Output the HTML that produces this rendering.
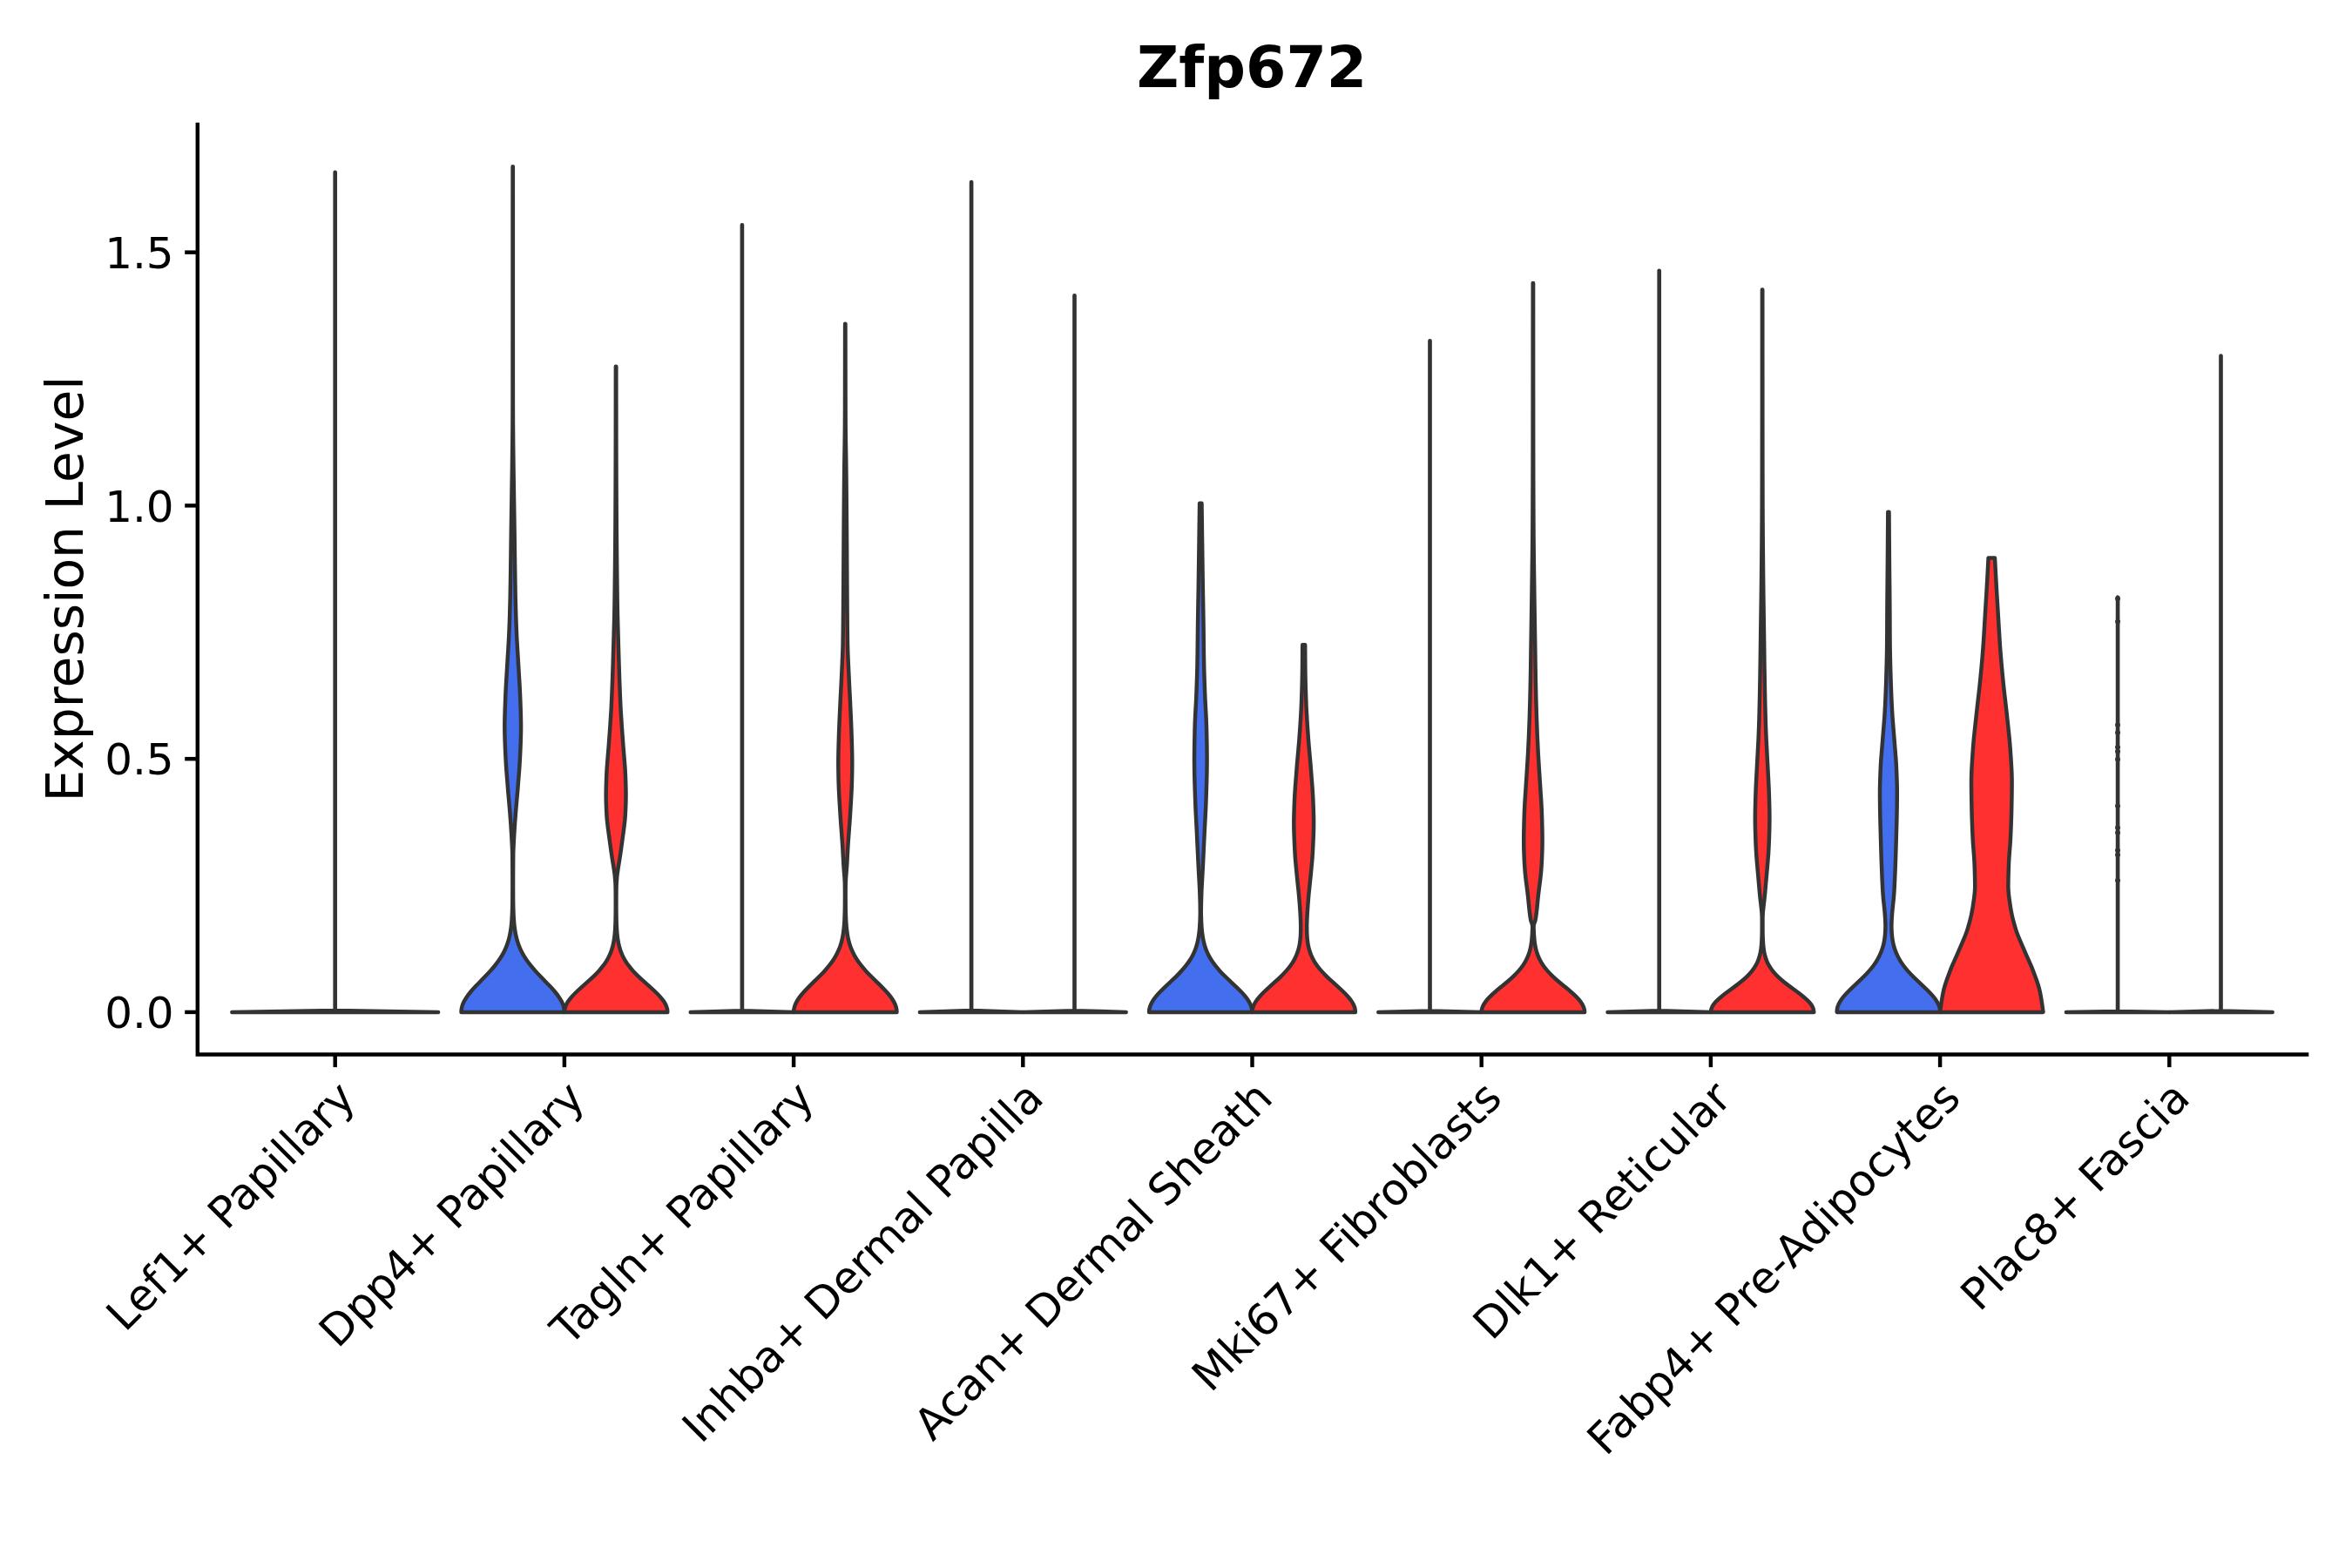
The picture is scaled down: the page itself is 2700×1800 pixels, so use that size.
<!DOCTYPE html>
<html><head><meta charset="utf-8"><title>Zfp672</title>
<style>html,body{margin:0;padding:0;background:#fff}svg{display:block}text{font-family:"DejaVu Sans","Liberation Sans",sans-serif;fill:#000}</style></head>
<body>
<svg width="2700" height="1800" viewBox="0 0 2700 1800">
<rect width="2700" height="1800" fill="#fff"/>
<g stroke="#333333" stroke-width="4.45" stroke-linejoin="round" stroke-linecap="round">
<path fill="#FF3030" d="M266.3,1161.9 L384.6,1160.0 L384.6,197.7 L384.8,197.7 L384.8,1160.0 L503.1,1161.9Z"/>
<path fill="#436EEE" d="M529.50,1161.90 C529.51,1159.93 529.76,1157.96 530.26,1155.99 C530.77,1154.02 531.52,1152.05 532.49,1150.08 C533.46,1148.11 534.65,1146.14 536.02,1144.17 C537.38,1142.20 538.92,1140.23 540.59,1138.26 C542.25,1136.29 544.03,1134.32 545.88,1132.35 C547.73,1130.38 549.64,1128.42 551.56,1126.45 C553.48,1124.48 555.41,1122.51 557.30,1120.54 C559.19,1118.57 561.04,1116.60 562.82,1114.63 C564.60,1112.66 566.30,1110.69 567.91,1108.72 C569.51,1106.75 571.01,1104.78 572.40,1102.81 C573.79,1100.84 575.07,1098.87 576.23,1096.90 C577.39,1094.93 578.44,1092.96 579.38,1090.99 C580.32,1089.02 581.16,1087.05 581.89,1085.08 C582.63,1083.11 583.26,1081.14 583.82,1079.17 C584.38,1077.20 584.85,1075.23 585.26,1073.26 C585.67,1071.29 586.01,1069.32 586.31,1067.35 C586.60,1065.38 586.84,1063.42 587.04,1061.45 C587.24,1059.48 587.40,1057.51 587.54,1055.54 C587.67,1053.57 587.78,1051.60 587.87,1049.63 C587.95,1047.66 588.02,1045.69 588.08,1043.72 C588.14,1041.75 588.18,1039.78 588.21,1037.81 C588.24,1035.84 588.27,1033.87 588.29,1031.90 C588.37,1023.66 588.35,1015.42 588.33,1007.18 C588.31,998.94 588.26,990.69 588.20,982.45 C588.15,974.21 587.58,965.97 587.11,957.73 C586.65,949.49 586.06,941.25 585.40,933.01 C584.74,924.76 583.92,916.52 583.25,908.28 C582.57,900.04 581.91,891.80 581.30,883.56 C580.70,875.32 580.29,867.08 579.94,858.84 C579.60,850.59 579.29,842.35 579.30,834.11 C579.31,825.87 579.59,817.63 579.88,809.39 C580.17,801.15 580.51,792.91 581.00,784.66 C581.49,776.42 581.99,768.18 582.48,759.94 C582.98,751.70 583.53,743.46 583.98,735.22 C584.42,726.98 584.73,718.74 585.02,710.49 C585.31,702.25 585.54,694.01 585.70,685.77 C585.87,677.53 585.98,669.29 586.10,661.05 C586.21,652.81 586.33,644.56 586.44,636.32 C586.55,628.08 586.65,619.84 586.76,611.60 C586.88,603.36 587.00,595.12 587.13,586.88 C587.26,578.64 587.39,570.39 587.51,562.15 C587.63,553.91 587.76,545.67 587.89,537.43 C588.01,529.19 588.12,520.95 588.19,512.71 C588.27,504.46 588.35,496.22 588.41,487.98 C588.47,479.74 588.50,471.50 588.50,463.26 C588.51,455.02 588.51,446.78 588.51,438.54 C588.51,430.29 588.52,422.05 588.52,413.81 C588.52,405.57 588.52,397.33 588.53,389.09 C588.53,380.85 588.53,372.61 588.53,364.36 C588.53,356.12 588.53,347.88 588.53,339.64 C588.53,331.40 588.54,323.16 588.54,314.92 C588.54,306.68 588.54,298.44 588.54,290.19 C588.54,281.95 588.54,273.71 588.54,265.47 C588.54,257.23 588.54,248.99 588.54,240.75 C588.54,232.51 588.54,224.26 588.55,216.02 C588.55,207.78 588.55,199.54 588.55,191.30 L588.85,191.30 C588.85,199.54 588.85,207.78 588.85,216.02 C588.86,224.26 588.86,232.51 588.86,240.75 C588.86,248.99 588.86,257.23 588.86,265.47 C588.86,273.71 588.86,281.95 588.86,290.19 C588.86,298.44 588.86,306.68 588.86,314.92 C588.86,323.16 588.87,331.40 588.87,339.64 C588.87,347.88 588.87,356.12 588.87,364.36 C588.87,372.61 588.87,380.85 588.87,389.09 C588.88,397.33 588.88,405.57 588.88,413.81 C588.88,422.05 588.89,430.29 588.89,438.54 C588.89,446.78 588.89,455.02 588.90,463.26 C588.90,471.50 588.93,479.74 588.99,487.98 C589.05,496.22 589.13,504.46 589.21,512.71 C589.28,520.95 589.39,529.19 589.51,537.43 C589.64,545.67 589.77,553.91 589.89,562.15 C590.01,570.39 590.14,578.64 590.27,586.88 C590.40,595.12 590.52,603.36 590.64,611.60 C590.75,619.84 590.85,628.08 590.96,636.32 C591.07,644.56 591.19,652.81 591.30,661.05 C591.42,669.29 591.53,677.53 591.70,685.77 C591.86,694.01 592.09,702.25 592.38,710.49 C592.67,718.74 592.98,726.98 593.42,735.22 C593.87,743.46 594.42,751.70 594.92,759.94 C595.41,768.18 595.91,776.42 596.40,784.66 C596.89,792.91 597.23,801.15 597.52,809.39 C597.81,817.63 598.09,825.87 598.10,834.11 C598.11,842.35 597.80,850.59 597.46,858.84 C597.11,867.08 596.70,875.32 596.10,883.56 C595.49,891.80 594.83,900.04 594.15,908.28 C593.48,916.52 592.66,924.76 592.00,933.01 C591.34,941.25 590.75,949.49 590.29,957.73 C589.82,965.97 589.25,974.21 589.20,982.45 C589.14,990.69 589.09,998.94 589.07,1007.18 C589.05,1015.42 589.03,1023.66 589.11,1031.90 C589.13,1033.87 589.16,1035.84 589.19,1037.81 C589.22,1039.78 589.26,1041.75 589.32,1043.72 C589.38,1045.69 589.45,1047.66 589.53,1049.63 C589.62,1051.60 589.73,1053.57 589.86,1055.54 C590.00,1057.51 590.16,1059.48 590.36,1061.45 C590.56,1063.42 590.80,1065.38 591.09,1067.35 C591.39,1069.32 591.73,1071.29 592.14,1073.26 C592.55,1075.23 593.02,1077.20 593.58,1079.17 C594.14,1081.14 594.77,1083.11 595.51,1085.08 C596.24,1087.05 597.08,1089.02 598.02,1090.99 C598.96,1092.96 600.01,1094.93 601.17,1096.90 C602.33,1098.87 603.61,1100.84 605.00,1102.81 C606.39,1104.78 607.89,1106.75 609.49,1108.72 C611.10,1110.69 612.80,1112.66 614.58,1114.63 C616.36,1116.60 618.21,1118.57 620.10,1120.54 C621.99,1122.51 623.92,1124.48 625.84,1126.45 C627.76,1128.42 629.67,1130.38 631.52,1132.35 C633.37,1134.32 635.15,1136.29 636.81,1138.26 C638.48,1140.23 640.02,1142.20 641.38,1144.17 C642.75,1146.14 643.94,1148.11 644.91,1150.08 C645.88,1152.05 646.63,1154.02 647.14,1155.99 C647.64,1157.96 647.89,1159.93 647.90,1161.90Z"/>
<path fill="#FF3030" d="M647.90,1161.90 C647.91,1159.93 648.24,1157.96 648.91,1155.99 C649.58,1154.02 650.58,1152.05 651.85,1150.08 C653.13,1148.11 654.68,1146.14 656.43,1144.17 C658.18,1142.20 660.13,1140.23 662.19,1138.26 C664.26,1136.29 666.44,1134.32 668.65,1132.35 C670.86,1130.38 673.10,1128.42 675.29,1126.45 C677.48,1124.48 679.62,1122.51 681.66,1120.54 C683.70,1118.57 685.63,1116.60 687.43,1114.63 C689.22,1112.66 690.88,1110.69 692.38,1108.72 C693.88,1106.75 695.23,1104.78 696.43,1102.81 C697.64,1100.84 698.69,1098.87 699.60,1096.90 C700.52,1094.93 701.30,1092.96 701.97,1090.99 C702.64,1089.02 703.20,1087.05 703.67,1085.08 C704.14,1083.11 704.53,1081.14 704.84,1079.17 C705.16,1077.20 705.41,1075.23 705.62,1073.26 C705.82,1071.29 705.98,1069.32 706.11,1067.35 C706.24,1065.38 706.33,1063.42 706.41,1061.45 C706.49,1059.48 706.54,1057.51 706.59,1055.54 C706.63,1053.57 706.66,1051.60 706.69,1049.63 C706.71,1047.66 706.73,1045.69 706.74,1043.72 C706.75,1041.75 706.75,1039.78 706.75,1037.81 C706.75,1035.84 706.75,1033.87 706.74,1031.90 C706.73,1025.91 706.74,1019.92 706.47,1013.93 C706.20,1007.94 705.53,1001.94 704.49,995.95 C703.44,989.96 702.51,983.97 701.64,977.98 C700.77,971.99 699.99,966.00 699.18,960.01 C698.37,954.01 697.50,948.02 696.91,942.03 C696.31,936.04 696.08,930.05 695.87,924.06 C695.65,918.07 695.61,912.08 695.73,906.09 C695.86,900.09 696.05,894.10 696.33,888.11 C696.62,882.12 697.09,876.13 697.60,870.14 C698.11,864.15 698.63,858.16 699.06,852.16 C699.48,846.17 699.94,840.18 700.37,834.19 C700.80,828.20 701.20,822.21 701.53,816.22 C701.85,810.23 702.12,804.24 702.37,798.24 C702.63,792.25 702.85,786.26 703.07,780.27 C703.28,774.28 703.48,768.29 703.66,762.30 C703.84,756.31 704.01,750.31 704.18,744.32 C704.35,738.33 704.52,732.34 704.69,726.35 C704.86,720.36 705.03,714.37 705.17,708.38 C705.31,702.39 705.42,696.39 705.51,690.40 C705.60,684.41 705.67,678.42 705.74,672.43 C705.81,666.44 705.88,660.45 705.95,654.46 C706.01,648.46 706.08,642.47 706.13,636.48 C706.19,630.49 706.24,624.50 706.29,618.51 C706.34,612.52 706.37,606.53 706.41,600.54 C706.44,594.54 706.47,588.55 706.50,582.56 C706.53,576.57 706.56,570.58 706.59,564.59 C706.61,558.60 706.64,552.61 706.66,546.61 C706.68,540.62 706.70,534.63 706.71,528.64 C706.73,522.65 706.74,516.66 706.75,510.67 C706.76,504.68 706.77,498.69 706.78,492.69 C706.79,486.70 706.79,480.71 706.80,474.72 C706.80,468.73 706.81,462.74 706.82,456.75 C706.82,450.76 706.83,444.76 706.83,438.77 C706.84,432.78 706.84,426.79 706.85,420.80 L707.35,420.80 C707.36,426.79 707.36,432.78 707.37,438.77 C707.37,444.76 707.38,450.76 707.38,456.75 C707.39,462.74 707.40,468.73 707.40,474.72 C707.41,480.71 707.41,486.70 707.42,492.69 C707.43,498.69 707.44,504.68 707.45,510.67 C707.46,516.66 707.47,522.65 707.49,528.64 C707.50,534.63 707.52,540.62 707.54,546.61 C707.56,552.61 707.59,558.60 707.61,564.59 C707.64,570.58 707.67,576.57 707.70,582.56 C707.73,588.55 707.76,594.54 707.79,600.54 C707.83,606.53 707.86,612.52 707.91,618.51 C707.96,624.50 708.01,630.49 708.07,636.48 C708.12,642.47 708.19,648.46 708.25,654.46 C708.32,660.45 708.39,666.44 708.46,672.43 C708.53,678.42 708.60,684.41 708.69,690.40 C708.78,696.39 708.89,702.39 709.03,708.38 C709.17,714.37 709.34,720.36 709.51,726.35 C709.68,732.34 709.85,738.33 710.02,744.32 C710.19,750.31 710.36,756.31 710.54,762.30 C710.72,768.29 710.92,774.28 711.13,780.27 C711.35,786.26 711.57,792.25 711.83,798.24 C712.08,804.24 712.35,810.23 712.67,816.22 C713.00,822.21 713.40,828.20 713.83,834.19 C714.26,840.18 714.72,846.17 715.14,852.16 C715.57,858.16 716.09,864.15 716.60,870.14 C717.11,876.13 717.58,882.12 717.87,888.11 C718.15,894.10 718.34,900.09 718.47,906.09 C718.59,912.08 718.55,918.07 718.33,924.06 C718.12,930.05 717.89,936.04 717.29,942.03 C716.70,948.02 715.83,954.01 715.02,960.01 C714.21,966.00 713.43,971.99 712.56,977.98 C711.69,983.97 710.76,989.96 709.71,995.95 C708.67,1001.94 708.00,1007.94 707.73,1013.93 C707.46,1019.92 707.47,1025.91 707.46,1031.90 C707.45,1033.87 707.45,1035.84 707.45,1037.81 C707.45,1039.78 707.45,1041.75 707.46,1043.72 C707.47,1045.69 707.49,1047.66 707.51,1049.63 C707.54,1051.60 707.57,1053.57 707.61,1055.54 C707.66,1057.51 707.71,1059.48 707.79,1061.45 C707.87,1063.42 707.96,1065.38 708.09,1067.35 C708.22,1069.32 708.38,1071.29 708.58,1073.26 C708.79,1075.23 709.04,1077.20 709.36,1079.17 C709.67,1081.14 710.06,1083.11 710.53,1085.08 C711.00,1087.05 711.56,1089.02 712.23,1090.99 C712.90,1092.96 713.68,1094.93 714.60,1096.90 C715.51,1098.87 716.56,1100.84 717.77,1102.81 C718.97,1104.78 720.32,1106.75 721.82,1108.72 C723.32,1110.69 724.98,1112.66 726.77,1114.63 C728.57,1116.60 730.50,1118.57 732.54,1120.54 C734.58,1122.51 736.72,1124.48 738.91,1126.45 C741.10,1128.42 743.34,1130.38 745.55,1132.35 C747.76,1134.32 749.94,1136.29 752.01,1138.26 C754.07,1140.23 756.02,1142.20 757.77,1144.17 C759.52,1146.14 761.07,1148.11 762.35,1150.08 C763.62,1152.05 764.62,1154.02 765.29,1155.99 C765.96,1157.96 766.29,1159.93 766.30,1161.90Z"/>
<path fill="#436EEE" d="M792.7,1161.9 L851.8,1160.1 L851.8,258.2 L852.0,258.2 L852.0,1160.1 L911.1,1161.9Z"/>
<path fill="#FF3030" d="M911.10,1161.90 C911.11,1159.93 911.39,1157.96 911.94,1155.99 C912.50,1154.02 913.33,1152.05 914.40,1150.08 C915.47,1148.11 916.78,1146.14 918.27,1144.17 C919.76,1142.20 921.44,1140.23 923.23,1138.26 C925.03,1136.29 926.95,1134.32 928.92,1132.35 C930.90,1130.38 932.93,1128.42 934.95,1126.45 C936.97,1124.48 938.98,1122.51 940.94,1120.54 C942.89,1118.57 944.79,1116.60 946.59,1114.63 C948.39,1112.66 950.09,1110.69 951.68,1108.72 C953.26,1106.75 954.73,1104.78 956.07,1102.81 C957.41,1100.84 958.62,1098.87 959.71,1096.90 C960.80,1094.93 961.76,1092.96 962.61,1090.99 C963.46,1089.02 964.20,1087.05 964.85,1085.08 C965.49,1083.11 966.04,1081.14 966.51,1079.17 C966.98,1077.20 967.37,1075.23 967.70,1073.26 C968.03,1071.29 968.30,1069.32 968.53,1067.35 C968.76,1065.38 968.94,1063.42 969.09,1061.45 C969.24,1059.48 969.35,1057.51 969.45,1055.54 C969.54,1053.57 969.62,1051.60 969.68,1049.63 C969.74,1047.66 969.78,1045.69 969.82,1043.72 C969.85,1041.75 969.88,1039.78 969.89,1037.81 C969.91,1035.84 969.92,1033.87 969.92,1031.90 C969.92,1025.43 969.99,1018.95 969.76,1012.48 C969.52,1006.01 968.76,999.54 968.39,993.06 C968.02,986.59 967.71,980.12 967.33,973.65 C966.95,967.17 966.47,960.70 965.98,954.23 C965.49,947.76 964.99,941.28 964.59,934.81 C964.19,928.34 963.79,921.87 963.43,915.39 C963.07,908.92 962.76,902.45 962.61,895.98 C962.46,889.50 962.32,883.03 962.30,876.56 C962.28,870.09 962.44,863.61 962.60,857.14 C962.76,850.67 962.94,844.20 963.20,837.72 C963.46,831.25 963.76,824.78 964.04,818.31 C964.33,811.83 964.64,805.36 964.98,798.89 C965.32,792.42 965.67,785.94 965.97,779.47 C966.27,773.00 966.57,766.53 966.86,760.05 C967.16,753.58 967.42,747.11 967.56,740.64 C967.69,734.16 967.76,727.69 967.82,721.22 C967.88,714.75 967.93,708.27 967.99,701.80 C968.04,695.33 968.09,688.85 968.13,682.38 C968.17,675.91 968.21,669.44 968.25,662.96 C968.28,656.49 968.32,650.02 968.36,643.55 C968.39,637.07 968.43,630.60 968.47,624.13 C968.52,617.66 968.56,611.18 968.61,604.71 C968.66,598.24 968.71,591.77 968.76,585.29 C968.81,578.82 968.86,572.35 968.92,565.88 C968.98,559.40 969.04,552.93 969.10,546.46 C969.17,539.99 969.25,533.51 969.35,527.04 C969.45,520.57 969.57,514.10 969.67,507.62 C969.76,501.15 969.85,494.68 969.88,488.21 C969.92,481.73 969.93,475.26 969.95,468.79 C969.96,462.32 969.98,455.84 969.99,449.37 C970.00,442.90 970.01,436.43 970.02,429.95 C970.03,423.48 970.04,417.01 970.05,410.54 C970.05,404.06 970.06,397.59 970.07,391.12 C970.08,384.65 970.09,378.17 970.10,371.70 L970.50,371.70 C970.51,378.17 970.52,384.65 970.53,391.12 C970.54,397.59 970.55,404.06 970.55,410.54 C970.56,417.01 970.57,423.48 970.58,429.95 C970.59,436.43 970.60,442.90 970.61,449.37 C970.62,455.84 970.64,462.32 970.65,468.79 C970.67,475.26 970.68,481.73 970.72,488.21 C970.75,494.68 970.84,501.15 970.93,507.62 C971.03,514.10 971.15,520.57 971.25,527.04 C971.35,533.51 971.43,539.99 971.50,546.46 C971.56,552.93 971.62,559.40 971.68,565.88 C971.74,572.35 971.79,578.82 971.84,585.29 C971.89,591.77 971.94,598.24 971.99,604.71 C972.04,611.18 972.08,617.66 972.13,624.13 C972.17,630.60 972.21,637.07 972.24,643.55 C972.28,650.02 972.32,656.49 972.35,662.96 C972.39,669.44 972.43,675.91 972.47,682.38 C972.51,688.85 972.56,695.33 972.61,701.80 C972.67,708.27 972.72,714.75 972.78,721.22 C972.84,727.69 972.91,734.16 973.04,740.64 C973.18,747.11 973.44,753.58 973.74,760.05 C974.03,766.53 974.33,773.00 974.63,779.47 C974.93,785.94 975.28,792.42 975.62,798.89 C975.96,805.36 976.27,811.83 976.56,818.31 C976.84,824.78 977.14,831.25 977.40,837.72 C977.66,844.20 977.84,850.67 978.00,857.14 C978.16,863.61 978.32,870.09 978.30,876.56 C978.28,883.03 978.14,889.50 977.99,895.98 C977.84,902.45 977.53,908.92 977.17,915.39 C976.81,921.87 976.41,928.34 976.01,934.81 C975.61,941.28 975.11,947.76 974.62,954.23 C974.13,960.70 973.65,967.17 973.27,973.65 C972.89,980.12 972.58,986.59 972.21,993.06 C971.84,999.54 971.08,1006.01 970.84,1012.48 C970.61,1018.95 970.68,1025.43 970.68,1031.90 C970.68,1033.87 970.69,1035.84 970.71,1037.81 C970.72,1039.78 970.75,1041.75 970.78,1043.72 C970.82,1045.69 970.86,1047.66 970.92,1049.63 C970.98,1051.60 971.06,1053.57 971.15,1055.54 C971.25,1057.51 971.36,1059.48 971.51,1061.45 C971.66,1063.42 971.84,1065.38 972.07,1067.35 C972.30,1069.32 972.57,1071.29 972.90,1073.26 C973.23,1075.23 973.62,1077.20 974.09,1079.17 C974.56,1081.14 975.11,1083.11 975.75,1085.08 C976.40,1087.05 977.14,1089.02 977.99,1090.99 C978.84,1092.96 979.80,1094.93 980.89,1096.90 C981.98,1098.87 983.19,1100.84 984.53,1102.81 C985.87,1104.78 987.34,1106.75 988.92,1108.72 C990.51,1110.69 992.21,1112.66 994.01,1114.63 C995.81,1116.60 997.71,1118.57 999.66,1120.54 C1001.62,1122.51 1003.63,1124.48 1005.65,1126.45 C1007.67,1128.42 1009.70,1130.38 1011.68,1132.35 C1013.65,1134.32 1015.57,1136.29 1017.37,1138.26 C1019.16,1140.23 1020.84,1142.20 1022.33,1144.17 C1023.82,1146.14 1025.13,1148.11 1026.20,1150.08 C1027.27,1152.05 1028.10,1154.02 1028.66,1155.99 C1029.21,1157.96 1029.49,1159.93 1029.50,1161.90Z"/>
<path fill="#436EEE" d="M1055.9,1161.9 L1115.0,1160.0 L1115.0,209.0 L1115.2,209.0 L1115.2,1160.0 L1174.3,1161.9Z"/>
<path fill="#FF3030" d="M1174.3,1161.9 L1233.4,1160.3 L1233.4,339.2 L1233.6,339.2 L1233.6,1160.3 L1292.7,1161.9Z"/>
<path fill="#436EEE" d="M1319.10,1161.90 C1319.11,1159.93 1319.41,1157.96 1320.01,1155.99 C1320.61,1154.02 1321.51,1152.05 1322.65,1150.08 C1323.80,1148.11 1325.20,1146.14 1326.80,1144.17 C1328.39,1142.20 1330.17,1140.23 1332.08,1138.26 C1333.98,1136.29 1336.01,1134.32 1338.08,1132.35 C1340.15,1130.38 1342.26,1128.42 1344.36,1126.45 C1346.45,1124.48 1348.52,1122.51 1350.52,1120.54 C1352.51,1118.57 1354.43,1116.60 1356.24,1114.63 C1358.04,1112.66 1359.74,1110.69 1361.29,1108.72 C1362.85,1106.75 1364.28,1104.78 1365.57,1102.81 C1366.86,1100.84 1368.01,1098.87 1369.03,1096.90 C1370.06,1094.93 1370.95,1092.96 1371.73,1090.99 C1372.51,1089.02 1373.18,1087.05 1373.75,1085.08 C1374.32,1083.11 1374.80,1081.14 1375.21,1079.17 C1375.61,1077.20 1375.95,1075.23 1376.22,1073.26 C1376.50,1071.29 1376.72,1069.32 1376.90,1067.35 C1377.08,1065.38 1377.23,1063.42 1377.34,1061.45 C1377.46,1059.48 1377.55,1057.51 1377.62,1055.54 C1377.69,1053.57 1377.75,1051.60 1377.78,1049.63 C1377.81,1047.66 1377.81,1045.69 1377.79,1043.72 C1377.77,1041.75 1377.74,1039.78 1377.70,1037.81 C1377.65,1035.84 1377.60,1033.87 1377.55,1031.90 C1377.43,1027.45 1377.27,1023.00 1377.04,1018.54 C1376.82,1014.09 1376.55,1009.64 1376.30,1005.19 C1376.04,1000.74 1375.81,996.28 1375.60,991.83 C1375.38,987.38 1375.17,982.93 1374.96,978.48 C1374.75,974.02 1374.54,969.57 1374.33,965.12 C1374.12,960.67 1373.91,956.22 1373.69,951.76 C1373.46,947.31 1373.22,942.86 1372.98,938.41 C1372.75,933.96 1372.52,929.50 1372.33,925.05 C1372.14,920.60 1372.00,916.15 1371.86,911.70 C1371.72,907.25 1371.57,902.79 1371.44,898.34 C1371.32,893.89 1371.20,889.44 1371.12,884.99 C1371.04,880.53 1371.00,876.08 1371.00,871.63 C1371.00,867.18 1371.04,862.73 1371.11,858.27 C1371.18,853.82 1371.26,849.37 1371.36,844.92 C1371.46,840.47 1371.55,836.01 1371.69,831.56 C1371.84,827.11 1372.06,822.66 1372.30,818.21 C1372.54,813.75 1372.80,809.30 1373.03,804.85 C1373.25,800.40 1373.42,795.95 1373.58,791.49 C1373.75,787.04 1373.90,782.59 1374.05,778.14 C1374.19,773.69 1374.32,769.23 1374.42,764.78 C1374.52,760.33 1374.59,755.88 1374.65,751.43 C1374.71,746.97 1374.76,742.52 1374.80,738.07 C1374.85,733.62 1374.89,729.17 1374.94,724.71 C1374.99,720.26 1375.06,715.81 1375.13,711.36 C1375.20,706.91 1375.28,702.45 1375.35,698.00 C1375.43,693.55 1375.51,689.10 1375.59,684.65 C1375.67,680.20 1375.74,675.74 1375.81,671.29 C1375.88,666.84 1375.94,662.39 1376.00,657.94 C1376.07,653.48 1376.13,649.03 1376.19,644.58 C1376.25,640.13 1376.31,635.68 1376.37,631.22 C1376.43,626.77 1376.49,622.32 1376.56,617.87 C1376.62,613.42 1376.68,608.96 1376.74,604.51 C1376.80,600.06 1376.86,595.61 1376.92,591.16 C1376.98,586.70 1377.04,582.25 1377.10,577.80 L1379.50,577.80 C1379.56,582.25 1379.62,586.70 1379.68,591.16 C1379.74,595.61 1379.80,600.06 1379.86,604.51 C1379.92,608.96 1379.98,613.42 1380.04,617.87 C1380.11,622.32 1380.17,626.77 1380.23,631.22 C1380.29,635.68 1380.35,640.13 1380.41,644.58 C1380.47,649.03 1380.53,653.48 1380.60,657.94 C1380.66,662.39 1380.72,666.84 1380.79,671.29 C1380.86,675.74 1380.93,680.20 1381.01,684.65 C1381.09,689.10 1381.17,693.55 1381.25,698.00 C1381.32,702.45 1381.40,706.91 1381.47,711.36 C1381.54,715.81 1381.61,720.26 1381.66,724.71 C1381.71,729.17 1381.75,733.62 1381.80,738.07 C1381.84,742.52 1381.89,746.97 1381.95,751.43 C1382.01,755.88 1382.08,760.33 1382.18,764.78 C1382.28,769.23 1382.41,773.69 1382.55,778.14 C1382.70,782.59 1382.85,787.04 1383.02,791.49 C1383.18,795.95 1383.35,800.40 1383.57,804.85 C1383.80,809.30 1384.06,813.75 1384.30,818.21 C1384.54,822.66 1384.76,827.11 1384.91,831.56 C1385.05,836.01 1385.14,840.47 1385.24,844.92 C1385.34,849.37 1385.42,853.82 1385.49,858.27 C1385.56,862.73 1385.60,867.18 1385.60,871.63 C1385.60,876.08 1385.56,880.53 1385.48,884.99 C1385.40,889.44 1385.28,893.89 1385.16,898.34 C1385.03,902.79 1384.88,907.25 1384.74,911.70 C1384.60,916.15 1384.46,920.60 1384.27,925.05 C1384.08,929.50 1383.85,933.96 1383.62,938.41 C1383.38,942.86 1383.14,947.31 1382.91,951.76 C1382.69,956.22 1382.48,960.67 1382.27,965.12 C1382.06,969.57 1381.85,974.02 1381.64,978.48 C1381.43,982.93 1381.22,987.38 1381.00,991.83 C1380.79,996.28 1380.56,1000.74 1380.30,1005.19 C1380.05,1009.64 1379.78,1014.09 1379.56,1018.54 C1379.33,1023.00 1379.17,1027.45 1379.05,1031.90 C1379.00,1033.87 1378.95,1035.84 1378.90,1037.81 C1378.86,1039.78 1378.83,1041.75 1378.81,1043.72 C1378.79,1045.69 1378.79,1047.66 1378.82,1049.63 C1378.85,1051.60 1378.91,1053.57 1378.98,1055.54 C1379.05,1057.51 1379.14,1059.48 1379.26,1061.45 C1379.37,1063.42 1379.52,1065.38 1379.70,1067.35 C1379.88,1069.32 1380.10,1071.29 1380.38,1073.26 C1380.65,1075.23 1380.99,1077.20 1381.39,1079.17 C1381.80,1081.14 1382.28,1083.11 1382.85,1085.08 C1383.42,1087.05 1384.09,1089.02 1384.87,1090.99 C1385.65,1092.96 1386.54,1094.93 1387.57,1096.90 C1388.59,1098.87 1389.74,1100.84 1391.03,1102.81 C1392.32,1104.78 1393.75,1106.75 1395.31,1108.72 C1396.86,1110.69 1398.56,1112.66 1400.36,1114.63 C1402.17,1116.60 1404.09,1118.57 1406.08,1120.54 C1408.08,1122.51 1410.15,1124.48 1412.24,1126.45 C1414.34,1128.42 1416.45,1130.38 1418.52,1132.35 C1420.59,1134.32 1422.62,1136.29 1424.52,1138.26 C1426.43,1140.23 1428.21,1142.20 1429.80,1144.17 C1431.40,1146.14 1432.80,1148.11 1433.95,1150.08 C1435.09,1152.05 1435.99,1154.02 1436.59,1155.99 C1437.19,1157.96 1437.49,1159.93 1437.50,1161.90Z"/>
<path fill="#FF3030" d="M1437.50,1161.90 C1437.48,1159.93 1437.78,1157.96 1438.43,1155.99 C1439.08,1154.02 1440.05,1152.05 1441.31,1150.08 C1442.56,1148.11 1444.09,1146.14 1445.83,1144.17 C1447.56,1142.20 1449.50,1140.23 1451.55,1138.26 C1453.60,1136.29 1455.77,1134.32 1457.95,1132.35 C1460.14,1130.38 1462.36,1128.42 1464.52,1126.45 C1466.68,1124.48 1468.79,1122.51 1470.79,1120.54 C1472.79,1118.57 1474.69,1116.60 1476.44,1114.63 C1478.19,1112.66 1479.79,1110.69 1481.24,1108.72 C1482.69,1106.75 1483.98,1104.78 1485.12,1102.81 C1486.26,1100.84 1487.24,1098.87 1488.08,1096.90 C1488.93,1094.93 1489.63,1092.96 1490.22,1090.99 C1490.80,1089.02 1491.27,1087.05 1491.65,1085.08 C1492.03,1083.11 1492.32,1081.14 1492.54,1079.17 C1492.76,1077.20 1492.91,1075.23 1493.02,1073.26 C1493.12,1071.29 1493.18,1069.32 1493.20,1067.35 C1493.22,1065.38 1493.21,1063.42 1493.18,1061.45 C1493.15,1059.48 1493.09,1057.51 1493.01,1055.54 C1492.93,1053.57 1492.83,1051.60 1492.72,1049.63 C1492.60,1047.66 1492.48,1045.69 1492.34,1043.72 C1492.21,1041.75 1492.07,1039.78 1491.92,1037.81 C1491.77,1035.84 1491.61,1033.87 1491.45,1031.90 C1491.21,1029.04 1490.96,1026.18 1490.66,1023.32 C1490.37,1020.46 1490.06,1017.60 1489.75,1014.74 C1489.44,1011.88 1489.16,1009.02 1488.88,1006.16 C1488.61,1003.30 1488.32,1000.44 1488.03,997.58 C1487.75,994.72 1487.47,991.86 1487.23,989.00 C1486.98,986.14 1486.76,983.28 1486.59,980.42 C1486.43,977.56 1486.30,974.70 1486.15,971.84 C1486.01,968.98 1485.88,966.12 1485.76,963.26 C1485.63,960.40 1485.53,957.55 1485.45,954.69 C1485.37,951.83 1485.32,948.97 1485.31,946.11 C1485.29,943.25 1485.32,940.39 1485.37,937.53 C1485.43,934.67 1485.52,931.81 1485.62,928.95 C1485.72,926.09 1485.82,923.23 1485.94,920.37 C1486.05,917.51 1486.19,914.65 1486.36,911.79 C1486.53,908.93 1486.73,906.07 1486.93,903.21 C1487.14,900.35 1487.36,897.49 1487.59,894.63 C1487.82,891.77 1488.04,888.91 1488.27,886.05 C1488.49,883.19 1488.70,880.33 1488.94,877.47 C1489.18,874.61 1489.44,871.75 1489.70,868.89 C1489.96,866.03 1490.22,863.17 1490.48,860.31 C1490.74,857.45 1490.99,854.59 1491.22,851.73 C1491.46,848.87 1491.67,846.01 1491.86,843.15 C1492.06,840.29 1492.26,837.43 1492.46,834.57 C1492.65,831.71 1492.84,828.85 1493.01,825.99 C1493.19,823.13 1493.36,820.27 1493.51,817.41 C1493.66,814.55 1493.80,811.70 1493.91,808.84 C1494.03,805.98 1494.12,803.12 1494.22,800.26 C1494.32,797.40 1494.41,794.54 1494.50,791.68 C1494.58,788.82 1494.66,785.96 1494.73,783.10 C1494.80,780.24 1494.86,777.38 1494.91,774.52 C1494.96,771.66 1495.00,768.80 1495.02,765.94 C1495.05,763.08 1495.07,760.22 1495.09,757.36 C1495.11,754.50 1495.13,751.64 1495.15,748.78 C1495.16,745.92 1495.18,743.06 1495.20,740.20 L1498.20,740.20 C1498.22,743.06 1498.24,745.92 1498.25,748.78 C1498.27,751.64 1498.29,754.50 1498.31,757.36 C1498.33,760.22 1498.35,763.08 1498.38,765.94 C1498.40,768.80 1498.44,771.66 1498.49,774.52 C1498.54,777.38 1498.60,780.24 1498.67,783.10 C1498.74,785.96 1498.82,788.82 1498.90,791.68 C1498.99,794.54 1499.08,797.40 1499.18,800.26 C1499.28,803.12 1499.37,805.98 1499.49,808.84 C1499.60,811.70 1499.74,814.55 1499.89,817.41 C1500.04,820.27 1500.21,823.13 1500.39,825.99 C1500.56,828.85 1500.75,831.71 1500.94,834.57 C1501.14,837.43 1501.34,840.29 1501.54,843.15 C1501.73,846.01 1501.94,848.87 1502.18,851.73 C1502.41,854.59 1502.66,857.45 1502.92,860.31 C1503.18,863.17 1503.44,866.03 1503.70,868.89 C1503.96,871.75 1504.22,874.61 1504.46,877.47 C1504.70,880.33 1504.91,883.19 1505.13,886.05 C1505.36,888.91 1505.58,891.77 1505.81,894.63 C1506.04,897.49 1506.26,900.35 1506.47,903.21 C1506.67,906.07 1506.87,908.93 1507.04,911.79 C1507.21,914.65 1507.35,917.51 1507.46,920.37 C1507.58,923.23 1507.68,926.09 1507.78,928.95 C1507.88,931.81 1507.97,934.67 1508.03,937.53 C1508.08,940.39 1508.11,943.25 1508.09,946.11 C1508.08,948.97 1508.03,951.83 1507.95,954.69 C1507.87,957.55 1507.77,960.40 1507.64,963.26 C1507.52,966.12 1507.39,968.98 1507.25,971.84 C1507.10,974.70 1506.97,977.56 1506.81,980.42 C1506.64,983.28 1506.42,986.14 1506.17,989.00 C1505.93,991.86 1505.65,994.72 1505.37,997.58 C1505.08,1000.44 1504.79,1003.30 1504.52,1006.16 C1504.24,1009.02 1503.96,1011.88 1503.65,1014.74 C1503.34,1017.60 1503.03,1020.46 1502.74,1023.32 C1502.44,1026.18 1502.19,1029.04 1501.95,1031.90 C1501.79,1033.87 1501.63,1035.84 1501.48,1037.81 C1501.33,1039.78 1501.19,1041.75 1501.06,1043.72 C1500.92,1045.69 1500.80,1047.66 1500.68,1049.63 C1500.57,1051.60 1500.47,1053.57 1500.39,1055.54 C1500.31,1057.51 1500.25,1059.48 1500.22,1061.45 C1500.19,1063.42 1500.18,1065.38 1500.20,1067.35 C1500.22,1069.32 1500.28,1071.29 1500.38,1073.26 C1500.49,1075.23 1500.64,1077.20 1500.86,1079.17 C1501.08,1081.14 1501.37,1083.11 1501.75,1085.08 C1502.13,1087.05 1502.60,1089.02 1503.18,1090.99 C1503.77,1092.96 1504.47,1094.93 1505.32,1096.90 C1506.16,1098.87 1507.14,1100.84 1508.28,1102.81 C1509.42,1104.78 1510.71,1106.75 1512.16,1108.72 C1513.61,1110.69 1515.21,1112.66 1516.96,1114.63 C1518.71,1116.60 1520.61,1118.57 1522.61,1120.54 C1524.61,1122.51 1526.72,1124.48 1528.88,1126.45 C1531.04,1128.42 1533.26,1130.38 1535.45,1132.35 C1537.63,1134.32 1539.80,1136.29 1541.85,1138.26 C1543.90,1140.23 1545.84,1142.20 1547.57,1144.17 C1549.31,1146.14 1550.84,1148.11 1552.09,1150.08 C1553.35,1152.05 1554.32,1154.02 1554.97,1155.99 C1555.62,1157.96 1555.92,1159.93 1555.90,1161.90Z"/>
<path fill="#436EEE" d="M1582.3,1161.9 L1641.4,1160.4 L1641.4,391.1 L1641.6,391.1 L1641.6,1160.4 L1700.7,1161.9Z"/>
<path fill="#FF3030" d="M1700.70,1161.90 C1700.71,1159.93 1701.09,1157.96 1701.86,1155.99 C1702.63,1154.02 1703.78,1152.05 1705.23,1150.08 C1706.68,1148.11 1708.44,1146.14 1710.41,1144.17 C1712.38,1142.20 1714.57,1140.23 1716.85,1138.26 C1719.13,1136.29 1721.52,1134.32 1723.90,1132.35 C1726.29,1130.38 1728.67,1128.42 1730.96,1126.45 C1733.26,1124.48 1735.46,1122.51 1737.53,1120.54 C1739.59,1118.57 1741.50,1116.60 1743.25,1114.63 C1744.99,1112.66 1746.56,1110.69 1747.96,1108.72 C1749.35,1106.75 1750.57,1104.78 1751.62,1102.81 C1752.68,1100.84 1753.58,1098.87 1754.34,1096.90 C1755.10,1094.93 1755.73,1092.96 1756.25,1090.99 C1756.77,1089.02 1757.19,1087.05 1757.53,1085.08 C1757.87,1083.11 1758.14,1081.14 1758.35,1079.17 C1758.56,1077.20 1758.72,1075.23 1758.84,1073.26 C1758.97,1071.29 1759.05,1069.32 1759.11,1067.35 C1759.16,1065.38 1759.48,1063.42 1758.94,1061.45 C1758.41,1059.48 1757.45,1057.51 1757.11,1055.54 C1756.78,1053.57 1756.48,1051.60 1756.22,1049.63 C1755.96,1047.66 1755.73,1045.69 1755.52,1043.72 C1755.31,1041.75 1755.11,1039.78 1754.92,1037.81 C1754.73,1035.84 1754.55,1033.87 1754.36,1031.90 C1753.67,1024.97 1752.70,1018.04 1751.80,1011.11 C1750.89,1004.18 1750.30,997.25 1749.96,990.32 C1749.62,983.39 1749.33,976.46 1749.23,969.53 C1749.14,962.60 1749.25,955.67 1749.43,948.74 C1749.60,941.80 1749.78,934.87 1750.10,927.94 C1750.41,921.01 1750.90,914.08 1751.38,907.15 C1751.86,900.22 1752.28,893.29 1752.73,886.36 C1753.17,879.43 1753.63,872.50 1754.02,865.57 C1754.42,858.64 1754.73,851.71 1755.03,844.78 C1755.32,837.85 1755.59,830.92 1755.82,823.99 C1756.05,817.06 1756.25,810.13 1756.43,803.20 C1756.61,796.27 1756.77,789.34 1756.90,782.41 C1757.04,775.48 1757.15,768.55 1757.25,761.61 C1757.35,754.68 1757.44,747.75 1757.54,740.82 C1757.63,733.89 1757.74,726.96 1757.85,720.03 C1757.96,713.10 1758.07,706.17 1758.17,699.24 C1758.28,692.31 1758.38,685.38 1758.48,678.45 C1758.57,671.52 1758.66,664.59 1758.76,657.66 C1758.86,650.73 1758.95,643.80 1759.04,636.87 C1759.13,629.94 1759.20,623.01 1759.25,616.08 C1759.31,609.15 1759.33,602.22 1759.37,595.29 C1759.40,588.35 1759.43,581.42 1759.45,574.49 C1759.48,567.56 1759.50,560.63 1759.52,553.70 C1759.54,546.77 1759.56,539.84 1759.57,532.91 C1759.58,525.98 1759.59,519.05 1759.60,512.12 C1759.61,505.19 1759.61,498.26 1759.62,491.33 C1759.62,484.40 1759.63,477.47 1759.63,470.54 C1759.64,463.61 1759.64,456.68 1759.65,449.75 C1759.65,442.82 1759.65,435.89 1759.66,428.96 C1759.66,422.03 1759.66,415.10 1759.66,408.16 C1759.67,401.23 1759.67,394.30 1759.67,387.37 C1759.68,380.44 1759.68,373.51 1759.68,366.58 C1759.68,359.65 1759.69,352.72 1759.69,345.79 C1759.69,338.86 1759.70,331.93 1759.70,325.00 L1760.10,325.00 C1760.10,331.93 1760.11,338.86 1760.11,345.79 C1760.11,352.72 1760.12,359.65 1760.12,366.58 C1760.12,373.51 1760.12,380.44 1760.13,387.37 C1760.13,394.30 1760.13,401.23 1760.14,408.16 C1760.14,415.10 1760.14,422.03 1760.14,428.96 C1760.15,435.89 1760.15,442.82 1760.15,449.75 C1760.16,456.68 1760.16,463.61 1760.17,470.54 C1760.17,477.47 1760.18,484.40 1760.18,491.33 C1760.19,498.26 1760.19,505.19 1760.20,512.12 C1760.21,519.05 1760.22,525.98 1760.23,532.91 C1760.24,539.84 1760.26,546.77 1760.28,553.70 C1760.30,560.63 1760.32,567.56 1760.35,574.49 C1760.37,581.42 1760.40,588.35 1760.43,595.29 C1760.47,602.22 1760.49,609.15 1760.55,616.08 C1760.60,623.01 1760.67,629.94 1760.76,636.87 C1760.85,643.80 1760.94,650.73 1761.04,657.66 C1761.14,664.59 1761.23,671.52 1761.32,678.45 C1761.42,685.38 1761.52,692.31 1761.63,699.24 C1761.73,706.17 1761.84,713.10 1761.95,720.03 C1762.06,726.96 1762.17,733.89 1762.26,740.82 C1762.36,747.75 1762.45,754.68 1762.55,761.61 C1762.65,768.55 1762.76,775.48 1762.90,782.41 C1763.03,789.34 1763.19,796.27 1763.37,803.20 C1763.55,810.13 1763.75,817.06 1763.98,823.99 C1764.21,830.92 1764.48,837.85 1764.77,844.78 C1765.07,851.71 1765.38,858.64 1765.78,865.57 C1766.17,872.50 1766.63,879.43 1767.07,886.36 C1767.52,893.29 1767.94,900.22 1768.42,907.15 C1768.90,914.08 1769.39,921.01 1769.70,927.94 C1770.02,934.87 1770.20,941.80 1770.37,948.74 C1770.55,955.67 1770.66,962.60 1770.57,969.53 C1770.47,976.46 1770.18,983.39 1769.84,990.32 C1769.50,997.25 1768.91,1004.18 1768.00,1011.11 C1767.10,1018.04 1766.13,1024.97 1765.44,1031.90 C1765.25,1033.87 1765.07,1035.84 1764.88,1037.81 C1764.69,1039.78 1764.49,1041.75 1764.28,1043.72 C1764.07,1045.69 1763.84,1047.66 1763.58,1049.63 C1763.32,1051.60 1763.02,1053.57 1762.69,1055.54 C1762.35,1057.51 1761.39,1059.48 1760.86,1061.45 C1760.32,1063.42 1760.64,1065.38 1760.69,1067.35 C1760.75,1069.32 1760.83,1071.29 1760.96,1073.26 C1761.08,1075.23 1761.24,1077.20 1761.45,1079.17 C1761.66,1081.14 1761.93,1083.11 1762.27,1085.08 C1762.61,1087.05 1763.03,1089.02 1763.55,1090.99 C1764.07,1092.96 1764.70,1094.93 1765.46,1096.90 C1766.22,1098.87 1767.12,1100.84 1768.18,1102.81 C1769.23,1104.78 1770.45,1106.75 1771.84,1108.72 C1773.24,1110.69 1774.81,1112.66 1776.55,1114.63 C1778.30,1116.60 1780.21,1118.57 1782.27,1120.54 C1784.34,1122.51 1786.54,1124.48 1788.84,1126.45 C1791.13,1128.42 1793.51,1130.38 1795.90,1132.35 C1798.28,1134.32 1800.67,1136.29 1802.95,1138.26 C1805.23,1140.23 1807.42,1142.20 1809.39,1144.17 C1811.36,1146.14 1813.12,1148.11 1814.57,1150.08 C1816.02,1152.05 1817.17,1154.02 1817.94,1155.99 C1818.71,1157.96 1819.09,1159.93 1819.10,1161.90Z"/>
<path fill="#436EEE" d="M1845.5,1161.9 L1904.6,1160.2 L1904.6,310.7 L1904.8,310.7 L1904.8,1160.2 L1963.9,1161.9Z"/>
<path fill="#FF3030" d="M1963.90,1161.90 C1963.92,1159.93 1964.41,1157.96 1965.38,1155.99 C1966.35,1154.02 1967.79,1152.05 1969.60,1150.08 C1971.40,1148.11 1973.57,1146.14 1975.95,1144.17 C1978.33,1142.20 1980.93,1140.23 1983.59,1138.26 C1986.25,1136.29 1988.97,1134.32 1991.61,1132.35 C1994.26,1130.38 1996.83,1128.42 1999.22,1126.45 C2001.62,1124.48 2003.85,1122.51 2005.86,1120.54 C2007.87,1118.57 2009.66,1116.60 2011.23,1114.63 C2012.80,1112.66 2014.15,1110.69 2015.29,1108.72 C2016.44,1106.75 2017.39,1104.78 2018.17,1102.81 C2018.96,1100.84 2019.58,1098.87 2020.09,1096.90 C2020.59,1094.93 2020.98,1092.96 2021.29,1090.99 C2021.60,1089.02 2021.82,1087.05 2022.00,1085.08 C2022.18,1083.11 2022.30,1081.14 2022.40,1079.17 C2022.49,1077.20 2022.56,1075.23 2022.60,1073.26 C2022.65,1071.29 2022.68,1069.32 2022.69,1067.35 C2022.71,1065.38 2022.72,1063.42 2022.72,1061.45 C2022.71,1059.48 2022.71,1057.51 2022.70,1055.54 C2022.69,1053.57 2022.66,1051.60 2022.55,1049.63 C2022.43,1047.66 2022.26,1045.69 2022.06,1043.72 C2021.85,1041.75 2021.62,1039.78 2021.39,1037.81 C2021.15,1035.84 2020.91,1033.87 2020.70,1031.90 C2019.96,1025.04 2019.42,1018.18 2018.80,1011.33 C2018.19,1004.47 2017.62,997.61 2016.99,990.75 C2016.37,983.90 2015.86,977.04 2015.59,970.18 C2015.32,963.32 2015.06,956.46 2014.92,949.61 C2014.77,942.75 2014.77,935.89 2014.91,929.03 C2015.05,922.17 2015.25,915.32 2015.50,908.46 C2015.75,901.60 2016.13,894.74 2016.50,887.89 C2016.88,881.03 2017.22,874.17 2017.59,867.31 C2017.95,860.45 2018.35,853.60 2018.68,846.74 C2019.00,839.88 2019.23,833.02 2019.43,826.16 C2019.63,819.31 2019.79,812.45 2019.94,805.59 C2020.10,798.73 2020.23,791.88 2020.35,785.02 C2020.48,778.16 2020.58,771.30 2020.69,764.44 C2020.79,757.59 2020.87,750.73 2020.96,743.87 C2021.04,737.01 2021.13,730.15 2021.24,723.30 C2021.34,716.44 2021.45,709.58 2021.55,702.72 C2021.66,695.87 2021.76,689.01 2021.84,682.15 C2021.93,675.29 2022.00,668.43 2022.07,661.58 C2022.14,654.72 2022.21,647.86 2022.27,641.00 C2022.34,634.15 2022.40,627.29 2022.46,620.43 C2022.51,613.57 2022.56,606.71 2022.60,599.86 C2022.64,593.00 2022.68,586.14 2022.69,579.28 C2022.71,572.42 2022.72,565.57 2022.74,558.71 C2022.75,551.85 2022.76,544.99 2022.77,538.14 C2022.78,531.28 2022.79,524.42 2022.80,517.56 C2022.81,510.70 2022.82,503.85 2022.82,496.99 C2022.83,490.13 2022.84,483.27 2022.84,476.41 C2022.85,469.56 2022.85,462.70 2022.85,455.84 C2022.86,448.98 2022.86,442.13 2022.86,435.27 C2022.87,428.41 2022.87,421.55 2022.87,414.69 C2022.87,407.84 2022.88,400.98 2022.88,394.12 C2022.88,387.26 2022.88,380.40 2022.89,373.55 C2022.89,366.69 2022.89,359.83 2022.89,352.97 C2022.89,346.12 2022.90,339.26 2022.90,332.40 L2023.30,332.40 C2023.30,339.26 2023.31,346.12 2023.31,352.97 C2023.31,359.83 2023.31,366.69 2023.31,373.55 C2023.32,380.40 2023.32,387.26 2023.32,394.12 C2023.32,400.98 2023.33,407.84 2023.33,414.69 C2023.33,421.55 2023.33,428.41 2023.34,435.27 C2023.34,442.13 2023.34,448.98 2023.35,455.84 C2023.35,462.70 2023.35,469.56 2023.36,476.41 C2023.36,483.27 2023.37,490.13 2023.38,496.99 C2023.38,503.85 2023.39,510.70 2023.40,517.56 C2023.41,524.42 2023.42,531.28 2023.43,538.14 C2023.44,544.99 2023.45,551.85 2023.46,558.71 C2023.48,565.57 2023.49,572.42 2023.51,579.28 C2023.52,586.14 2023.56,593.00 2023.60,599.86 C2023.64,606.71 2023.69,613.57 2023.74,620.43 C2023.80,627.29 2023.86,634.15 2023.93,641.00 C2023.99,647.86 2024.06,654.72 2024.13,661.58 C2024.20,668.43 2024.27,675.29 2024.36,682.15 C2024.44,689.01 2024.54,695.87 2024.65,702.72 C2024.75,709.58 2024.86,716.44 2024.96,723.30 C2025.07,730.15 2025.16,737.01 2025.24,743.87 C2025.33,750.73 2025.41,757.59 2025.51,764.44 C2025.62,771.30 2025.72,778.16 2025.85,785.02 C2025.97,791.88 2026.10,798.73 2026.26,805.59 C2026.41,812.45 2026.57,819.31 2026.77,826.16 C2026.97,833.02 2027.20,839.88 2027.52,846.74 C2027.85,853.60 2028.25,860.45 2028.61,867.31 C2028.98,874.17 2029.32,881.03 2029.70,887.89 C2030.07,894.74 2030.45,901.60 2030.70,908.46 C2030.95,915.32 2031.15,922.17 2031.29,929.03 C2031.43,935.89 2031.43,942.75 2031.28,949.61 C2031.14,956.46 2030.88,963.32 2030.61,970.18 C2030.34,977.04 2029.83,983.90 2029.21,990.75 C2028.58,997.61 2028.01,1004.47 2027.40,1011.33 C2026.78,1018.18 2026.24,1025.04 2025.50,1031.90 C2025.29,1033.87 2025.05,1035.84 2024.81,1037.81 C2024.58,1039.78 2024.35,1041.75 2024.14,1043.72 C2023.94,1045.69 2023.77,1047.66 2023.65,1049.63 C2023.54,1051.60 2023.51,1053.57 2023.50,1055.54 C2023.49,1057.51 2023.49,1059.48 2023.48,1061.45 C2023.48,1063.42 2023.49,1065.38 2023.51,1067.35 C2023.52,1069.32 2023.55,1071.29 2023.60,1073.26 C2023.64,1075.23 2023.71,1077.20 2023.80,1079.17 C2023.90,1081.14 2024.02,1083.11 2024.20,1085.08 C2024.38,1087.05 2024.60,1089.02 2024.91,1090.99 C2025.22,1092.96 2025.61,1094.93 2026.11,1096.90 C2026.62,1098.87 2027.24,1100.84 2028.03,1102.81 C2028.81,1104.78 2029.76,1106.75 2030.91,1108.72 C2032.05,1110.69 2033.40,1112.66 2034.97,1114.63 C2036.54,1116.60 2038.33,1118.57 2040.34,1120.54 C2042.35,1122.51 2044.58,1124.48 2046.98,1126.45 C2049.37,1128.42 2051.94,1130.38 2054.59,1132.35 C2057.23,1134.32 2059.95,1136.29 2062.61,1138.26 C2065.27,1140.23 2067.87,1142.20 2070.25,1144.17 C2072.63,1146.14 2074.80,1148.11 2076.60,1150.08 C2078.41,1152.05 2079.85,1154.02 2080.82,1155.99 C2081.79,1157.96 2082.28,1159.93 2082.30,1161.90Z"/>
<path fill="#436EEE" d="M2108.70,1161.90 C2108.64,1159.93 2108.89,1157.96 2109.46,1155.99 C2110.04,1154.02 2110.93,1152.05 2112.09,1150.08 C2113.24,1148.11 2114.67,1146.14 2116.29,1144.17 C2117.92,1142.20 2119.74,1140.23 2121.68,1138.26 C2123.61,1136.29 2125.67,1134.32 2127.76,1132.35 C2129.84,1130.38 2131.97,1128.42 2134.05,1126.45 C2136.13,1124.48 2138.18,1122.51 2140.13,1120.54 C2142.08,1118.57 2143.94,1116.60 2145.67,1114.63 C2147.40,1112.66 2149.01,1110.69 2150.48,1108.72 C2151.94,1106.75 2153.27,1104.78 2154.46,1102.81 C2155.65,1100.84 2156.70,1098.87 2157.64,1096.90 C2158.58,1094.93 2159.41,1092.96 2160.13,1090.99 C2160.85,1089.02 2161.47,1087.05 2161.98,1085.08 C2162.50,1083.11 2162.90,1081.14 2163.21,1079.17 C2163.53,1077.20 2163.76,1075.23 2163.94,1073.26 C2164.11,1071.29 2164.23,1069.32 2164.31,1067.35 C2164.39,1065.38 2164.43,1063.42 2164.39,1061.45 C2164.36,1059.48 2164.27,1057.51 2164.16,1055.54 C2164.05,1053.57 2163.91,1051.60 2163.78,1049.63 C2163.64,1047.66 2163.47,1045.69 2163.27,1043.72 C2163.07,1041.75 2162.86,1039.78 2162.64,1037.81 C2162.42,1035.84 2162.21,1033.87 2162.01,1031.90 C2161.58,1027.54 2161.32,1023.19 2161.09,1018.83 C2160.85,1014.48 2160.65,1010.12 2160.47,1005.76 C2160.29,1001.41 2160.12,997.05 2159.96,992.70 C2159.80,988.34 2159.65,983.99 2159.52,979.63 C2159.38,975.27 2159.25,970.92 2159.13,966.56 C2159.01,962.21 2158.88,957.85 2158.76,953.49 C2158.63,949.14 2158.51,944.78 2158.40,940.43 C2158.30,936.07 2158.22,931.71 2158.16,927.36 C2158.10,923.00 2158.04,918.65 2158.01,914.29 C2157.99,909.94 2158.01,905.58 2158.11,901.22 C2158.21,896.87 2158.37,892.51 2158.54,888.16 C2158.71,883.80 2158.87,879.44 2159.15,875.09 C2159.44,870.73 2159.80,866.38 2160.17,862.02 C2160.54,857.66 2160.87,853.31 2161.21,848.95 C2161.56,844.60 2161.93,840.24 2162.29,835.89 C2162.65,831.53 2163.00,827.17 2163.31,822.82 C2163.61,818.46 2163.84,814.11 2164.06,809.75 C2164.27,805.39 2164.47,801.04 2164.65,796.68 C2164.83,792.33 2164.99,787.97 2165.13,783.61 C2165.27,779.26 2165.40,774.90 2165.52,770.55 C2165.64,766.19 2165.76,761.84 2165.87,757.48 C2165.97,753.12 2166.06,748.77 2166.13,744.41 C2166.19,740.06 2166.22,735.70 2166.25,731.34 C2166.28,726.99 2166.30,722.63 2166.31,718.28 C2166.33,713.92 2166.35,709.56 2166.37,705.21 C2166.39,700.85 2166.42,696.50 2166.46,692.14 C2166.49,687.79 2166.53,683.43 2166.56,679.07 C2166.60,674.72 2166.64,670.36 2166.69,666.01 C2166.73,661.65 2166.77,657.29 2166.81,652.94 C2166.85,648.58 2166.88,644.23 2166.92,639.87 C2166.95,635.51 2166.98,631.16 2167.02,626.80 C2167.05,622.45 2167.08,618.09 2167.11,613.74 C2167.14,609.38 2167.17,605.02 2167.21,600.67 C2167.24,596.31 2167.27,591.96 2167.30,587.60 L2168.50,587.60 C2168.53,591.96 2168.56,596.31 2168.59,600.67 C2168.63,605.02 2168.66,609.38 2168.69,613.74 C2168.72,618.09 2168.75,622.45 2168.78,626.80 C2168.82,631.16 2168.85,635.51 2168.88,639.87 C2168.92,644.23 2168.95,648.58 2168.99,652.94 C2169.03,657.29 2169.07,661.65 2169.11,666.01 C2169.16,670.36 2169.20,674.72 2169.24,679.07 C2169.27,683.43 2169.31,687.79 2169.34,692.14 C2169.38,696.50 2169.41,700.85 2169.43,705.21 C2169.45,709.56 2169.47,713.92 2169.49,718.28 C2169.50,722.63 2169.52,726.99 2169.55,731.34 C2169.58,735.70 2169.61,740.06 2169.67,744.41 C2169.74,748.77 2169.83,753.12 2169.93,757.48 C2170.04,761.84 2170.16,766.19 2170.28,770.55 C2170.40,774.90 2170.53,779.26 2170.67,783.61 C2170.81,787.97 2170.97,792.33 2171.15,796.68 C2171.33,801.04 2171.53,805.39 2171.74,809.75 C2171.96,814.11 2172.19,818.46 2172.49,822.82 C2172.80,827.17 2173.15,831.53 2173.51,835.89 C2173.87,840.24 2174.24,844.60 2174.59,848.95 C2174.93,853.31 2175.26,857.66 2175.63,862.02 C2176.00,866.38 2176.36,870.73 2176.65,875.09 C2176.93,879.44 2177.09,883.80 2177.26,888.16 C2177.43,892.51 2177.59,896.87 2177.69,901.22 C2177.79,905.58 2177.81,909.94 2177.79,914.29 C2177.76,918.65 2177.70,923.00 2177.64,927.36 C2177.58,931.71 2177.50,936.07 2177.40,940.43 C2177.29,944.78 2177.17,949.14 2177.04,953.49 C2176.92,957.85 2176.79,962.21 2176.67,966.56 C2176.55,970.92 2176.42,975.27 2176.28,979.63 C2176.15,983.99 2176.00,988.34 2175.84,992.70 C2175.68,997.05 2175.51,1001.41 2175.33,1005.76 C2175.15,1010.12 2174.95,1014.48 2174.71,1018.83 C2174.48,1023.19 2174.22,1027.54 2173.79,1031.90 C2173.59,1033.87 2173.38,1035.84 2173.16,1037.81 C2172.94,1039.78 2172.73,1041.75 2172.53,1043.72 C2172.33,1045.69 2172.16,1047.66 2172.02,1049.63 C2171.89,1051.60 2171.75,1053.57 2171.64,1055.54 C2171.53,1057.51 2171.44,1059.48 2171.41,1061.45 C2171.37,1063.42 2171.41,1065.38 2171.49,1067.35 C2171.57,1069.32 2171.69,1071.29 2171.86,1073.26 C2172.04,1075.23 2172.27,1077.20 2172.59,1079.17 C2172.90,1081.14 2173.30,1083.11 2173.82,1085.08 C2174.33,1087.05 2174.95,1089.02 2175.67,1090.99 C2176.39,1092.96 2177.22,1094.93 2178.16,1096.90 C2179.10,1098.87 2180.15,1100.84 2181.34,1102.81 C2182.53,1104.78 2183.86,1106.75 2185.32,1108.72 C2186.79,1110.69 2188.40,1112.66 2190.13,1114.63 C2191.86,1116.60 2193.72,1118.57 2195.67,1120.54 C2197.62,1122.51 2199.67,1124.48 2201.75,1126.45 C2203.83,1128.42 2205.96,1130.38 2208.04,1132.35 C2210.13,1134.32 2212.19,1136.29 2214.12,1138.26 C2216.06,1140.23 2217.88,1142.20 2219.51,1144.17 C2221.13,1146.14 2222.56,1148.11 2223.71,1150.08 C2224.87,1152.05 2225.76,1154.02 2226.34,1155.99 C2226.91,1157.96 2227.16,1159.93 2227.10,1161.90Z"/>
<path fill="#FF3030" d="M2227.10,1161.90 C2227.37,1159.93 2227.62,1157.96 2227.90,1155.99 C2228.17,1154.02 2228.47,1152.05 2228.78,1150.08 C2229.08,1148.11 2229.40,1146.14 2229.74,1144.17 C2230.08,1142.20 2230.46,1140.23 2230.89,1138.26 C2231.31,1136.29 2231.81,1134.32 2232.38,1132.35 C2232.95,1130.38 2233.59,1128.42 2234.27,1126.45 C2234.94,1124.48 2235.66,1122.51 2236.40,1120.54 C2237.13,1118.57 2237.89,1116.60 2238.64,1114.63 C2239.38,1112.66 2240.15,1110.69 2240.97,1108.72 C2241.80,1106.75 2242.67,1104.78 2243.55,1102.81 C2244.44,1100.84 2245.34,1098.87 2246.23,1096.90 C2247.11,1094.93 2247.99,1092.96 2248.83,1090.99 C2249.67,1089.02 2250.48,1087.05 2251.33,1085.08 C2252.18,1083.11 2253.04,1081.14 2253.88,1079.17 C2254.72,1077.20 2255.54,1075.23 2256.31,1073.26 C2257.07,1071.29 2257.79,1069.32 2258.43,1067.35 C2259.06,1065.38 2259.62,1063.42 2260.17,1061.45 C2260.72,1059.48 2261.25,1057.51 2261.75,1055.54 C2262.24,1053.57 2262.71,1051.60 2263.13,1049.63 C2263.55,1047.66 2263.93,1045.69 2264.26,1043.72 C2264.60,1041.75 2264.87,1039.78 2265.17,1037.81 C2265.47,1035.84 2265.77,1033.87 2266.05,1031.90 C2266.58,1028.06 2267.01,1024.22 2267.15,1020.39 C2267.29,1016.55 2267.18,1012.71 2267.11,1008.87 C2267.04,1005.03 2266.93,1001.19 2266.81,997.36 C2266.69,993.52 2266.55,989.68 2266.30,985.84 C2266.05,982.00 2265.74,978.16 2265.43,974.33 C2265.13,970.49 2264.84,966.65 2264.64,962.81 C2264.45,958.97 2264.29,955.14 2264.13,951.30 C2263.97,947.46 2263.83,943.62 2263.71,939.78 C2263.58,935.94 2263.49,932.11 2263.41,928.27 C2263.34,924.43 2263.26,920.59 2263.19,916.75 C2263.12,912.91 2263.07,909.08 2263.03,905.24 C2263.00,901.40 2262.97,897.56 2263.03,893.72 C2263.10,889.89 2263.25,886.05 2263.44,882.21 C2263.64,878.37 2263.88,874.53 2264.14,870.69 C2264.40,866.86 2264.67,863.02 2264.93,859.18 C2265.19,855.34 2265.51,851.50 2265.88,847.66 C2266.25,843.83 2266.66,839.99 2267.08,836.15 C2267.50,832.31 2267.93,828.47 2268.34,824.64 C2268.76,820.80 2269.16,816.96 2269.60,813.12 C2270.04,809.28 2270.49,805.44 2270.94,801.61 C2271.39,797.77 2271.84,793.93 2272.26,790.09 C2272.68,786.25 2273.06,782.41 2273.44,778.58 C2273.81,774.74 2274.18,770.90 2274.53,767.06 C2274.89,763.22 2275.23,759.39 2275.55,755.55 C2275.87,751.71 2276.18,747.87 2276.46,744.03 C2276.74,740.19 2276.99,736.36 2277.23,732.52 C2277.48,728.68 2277.71,724.84 2277.94,721.00 C2278.16,717.16 2278.39,713.33 2278.62,709.49 C2278.85,705.65 2279.09,701.81 2279.32,697.97 C2279.56,694.14 2279.80,690.30 2280.03,686.46 C2280.26,682.62 2280.49,678.78 2280.72,674.94 C2280.94,671.11 2281.16,667.27 2281.37,663.43 C2281.58,659.59 2281.79,655.75 2281.99,651.91 C2282.19,648.08 2282.39,644.24 2282.60,640.40 L2290.00,640.40 C2290.21,644.24 2290.41,648.08 2290.61,651.91 C2290.81,655.75 2291.02,659.59 2291.23,663.43 C2291.44,667.27 2291.66,671.11 2291.88,674.94 C2292.11,678.78 2292.34,682.62 2292.57,686.46 C2292.80,690.30 2293.04,694.14 2293.28,697.97 C2293.51,701.81 2293.75,705.65 2293.98,709.49 C2294.21,713.33 2294.44,717.16 2294.66,721.00 C2294.89,724.84 2295.12,728.68 2295.37,732.52 C2295.61,736.36 2295.86,740.19 2296.14,744.03 C2296.42,747.87 2296.73,751.71 2297.05,755.55 C2297.37,759.39 2297.71,763.22 2298.07,767.06 C2298.42,770.90 2298.79,774.74 2299.16,778.58 C2299.54,782.41 2299.92,786.25 2300.34,790.09 C2300.76,793.93 2301.21,797.77 2301.66,801.61 C2302.11,805.44 2302.56,809.28 2303.00,813.12 C2303.44,816.96 2303.84,820.80 2304.26,824.64 C2304.67,828.47 2305.10,832.31 2305.52,836.15 C2305.94,839.99 2306.35,843.83 2306.72,847.66 C2307.09,851.50 2307.41,855.34 2307.67,859.18 C2307.93,863.02 2308.20,866.86 2308.46,870.69 C2308.72,874.53 2308.96,878.37 2309.16,882.21 C2309.35,886.05 2309.50,889.89 2309.57,893.72 C2309.63,897.56 2309.60,901.40 2309.57,905.24 C2309.53,909.08 2309.48,912.91 2309.41,916.75 C2309.34,920.59 2309.26,924.43 2309.19,928.27 C2309.11,932.11 2309.02,935.94 2308.89,939.78 C2308.77,943.62 2308.63,947.46 2308.47,951.30 C2308.31,955.14 2308.15,958.97 2307.96,962.81 C2307.76,966.65 2307.47,970.49 2307.17,974.33 C2306.86,978.16 2306.55,982.00 2306.30,985.84 C2306.05,989.68 2305.91,993.52 2305.79,997.36 C2305.67,1001.19 2305.56,1005.03 2305.49,1008.87 C2305.42,1012.71 2305.31,1016.55 2305.45,1020.39 C2305.59,1024.22 2306.02,1028.06 2306.55,1031.90 C2306.83,1033.87 2307.13,1035.84 2307.43,1037.81 C2307.73,1039.78 2308.00,1041.75 2308.34,1043.72 C2308.67,1045.69 2309.05,1047.66 2309.47,1049.63 C2309.89,1051.60 2310.36,1053.57 2310.85,1055.54 C2311.35,1057.51 2311.88,1059.48 2312.43,1061.45 C2312.98,1063.42 2313.54,1065.38 2314.17,1067.35 C2314.81,1069.32 2315.53,1071.29 2316.29,1073.26 C2317.06,1075.23 2317.88,1077.20 2318.72,1079.17 C2319.56,1081.14 2320.42,1083.11 2321.27,1085.08 C2322.12,1087.05 2322.93,1089.02 2323.77,1090.99 C2324.61,1092.96 2325.49,1094.93 2326.37,1096.90 C2327.26,1098.87 2328.16,1100.84 2329.05,1102.81 C2329.93,1104.78 2330.80,1106.75 2331.63,1108.72 C2332.45,1110.69 2333.22,1112.66 2333.96,1114.63 C2334.71,1116.60 2335.47,1118.57 2336.20,1120.54 C2336.94,1122.51 2337.66,1124.48 2338.33,1126.45 C2339.01,1128.42 2339.65,1130.38 2340.22,1132.35 C2340.79,1134.32 2341.29,1136.29 2341.71,1138.26 C2342.14,1140.23 2342.52,1142.20 2342.86,1144.17 C2343.20,1146.14 2343.52,1148.11 2343.82,1150.08 C2344.13,1152.05 2344.43,1154.02 2344.70,1155.99 C2344.98,1157.96 2345.23,1159.93 2345.50,1161.90Z"/>
<path fill="#436EEE" d="M2371.9,1161.9 L2431.0,1161.0 L2431.0,1012.4 L2430.3,1011.3 L2430.3,1010.3 L2431.0,1009.2 L2431.0,983.0 L2430.3,981.9 L2430.3,980.9 L2431.0,979.8 L2431.0,977.9 L2430.3,976.8 L2430.3,975.8 L2431.0,974.7 L2431.0,957.5 L2430.3,956.4 L2430.3,955.4 L2431.0,954.3 L2431.0,951.9 L2430.3,950.8 L2430.3,949.8 L2431.0,948.7 L2431.0,926.9 L2430.3,925.8 L2430.3,924.8 L2431.0,923.7 L2431.0,873.3 L2430.3,872.2 L2430.3,871.2 L2431.0,870.1 L2431.0,864.4 L2430.3,863.3 L2430.3,862.3 L2431.0,861.2 L2431.0,859.3 L2430.3,858.2 L2430.3,857.2 L2431.0,856.1 L2431.0,842.7 L2430.3,841.6 L2430.3,840.6 L2431.0,839.5 L2431.0,833.8 L2430.3,832.7 L2430.3,831.7 L2431.0,830.6 L2431.0,715.2 L2430.3,714.1 L2430.3,713.1 L2431.0,712.0 L2431.0,688.8 L2430.3,687.7 L2430.3,686.7 L2431.0,685.6 L2431.0,685.8 L2431.2,685.8 L2431.2,685.6 L2431.8,686.7 L2431.8,687.7 L2431.2,688.8 L2431.2,712.0 L2431.8,713.1 L2431.8,714.1 L2431.2,715.2 L2431.2,830.6 L2431.8,831.7 L2431.8,832.7 L2431.2,833.8 L2431.2,839.5 L2431.8,840.6 L2431.8,841.6 L2431.2,842.7 L2431.2,856.1 L2431.8,857.2 L2431.8,858.2 L2431.2,859.3 L2431.2,861.2 L2431.8,862.3 L2431.8,863.3 L2431.2,864.4 L2431.2,870.1 L2431.8,871.2 L2431.8,872.2 L2431.2,873.3 L2431.2,923.7 L2431.8,924.8 L2431.8,925.8 L2431.2,926.9 L2431.2,948.7 L2431.8,949.8 L2431.8,950.8 L2431.2,951.9 L2431.2,954.3 L2431.8,955.4 L2431.8,956.4 L2431.2,957.5 L2431.2,974.7 L2431.8,975.8 L2431.8,976.8 L2431.2,977.9 L2431.2,979.8 L2431.8,980.9 L2431.8,981.9 L2431.2,983.0 L2431.2,1009.2 L2431.8,1010.3 L2431.8,1011.3 L2431.2,1012.4 L2431.2,1161.0 L2490.3,1161.9Z"/>
<path fill="#FF3030" d="M2490.3,1161.9 L2549.4,1160.4 L2549.4,408.5 L2549.6,408.5 L2549.6,1160.4 L2608.7,1161.9Z"/>
</g>
<g stroke="#000" stroke-width="4.45" fill="none">
<path d="M226.80,140.80 V1210.50 H2650.30"/>
<path d="M212.20,1161.90 H226.80"/>
<path d="M212.20,871.15 H226.80"/>
<path d="M212.20,580.40 H226.80"/>
<path d="M212.20,289.65 H226.80"/>
<path d="M384.70,1210.50 V1225.10"/>
<path d="M647.90,1210.50 V1225.10"/>
<path d="M911.10,1210.50 V1225.10"/>
<path d="M1174.30,1210.50 V1225.10"/>
<path d="M1437.50,1210.50 V1225.10"/>
<path d="M1700.70,1210.50 V1225.10"/>
<path d="M1963.90,1210.50 V1225.10"/>
<path d="M2227.10,1210.50 V1225.10"/>
<path d="M2490.30,1210.50 V1225.10"/>
</g>
<text x="199.70" y="1180.10" font-size="50" text-anchor="end">0.0</text>
<text x="199.70" y="889.35" font-size="50" text-anchor="end">0.5</text>
<text x="199.70" y="598.60" font-size="50" text-anchor="end">1.0</text>
<text x="199.70" y="307.85" font-size="50" text-anchor="end">1.5</text>
<text transform="translate(383.60,1236.30) rotate(-45)" font-size="50" text-anchor="end" x="0" y="38.00">Lef1+ Papillary</text>
<text transform="translate(646.80,1236.30) rotate(-45)" font-size="50" text-anchor="end" x="0" y="38.00">Dpp4+ Papillary</text>
<text transform="translate(910.00,1236.30) rotate(-45)" font-size="50" text-anchor="end" x="0" y="38.00">Tagln+ Papillary</text>
<text transform="translate(1173.20,1236.30) rotate(-45)" font-size="50" text-anchor="end" x="0" y="38.00">Inhba+ Dermal Papilla</text>
<text transform="translate(1436.40,1236.30) rotate(-45)" font-size="50" text-anchor="end" x="0" y="38.00">Acan+ Dermal Sheath</text>
<text transform="translate(1699.60,1236.30) rotate(-45)" font-size="50" text-anchor="end" x="0" y="38.00">Mki67+ Fibroblasts</text>
<text transform="translate(1962.80,1236.30) rotate(-45)" font-size="50" text-anchor="end" x="0" y="38.00">Dlk1+ Reticular</text>
<text transform="translate(2226.00,1236.30) rotate(-45)" font-size="50" text-anchor="end" x="0" y="38.00">Fabp4+ Pre-Adipocytes</text>
<text transform="translate(2489.20,1236.30) rotate(-45)" font-size="50" text-anchor="end" x="0" y="38.00">Plac8+ Fascia</text>
<text transform="translate(95.00,676.00) rotate(-90)" font-size="58.33" text-anchor="middle">Expression Level</text>
<text x="1437.10" y="100.00" font-size="66.67" font-weight="bold" text-anchor="middle">Zfp672</text>
</svg>
</body></html>
